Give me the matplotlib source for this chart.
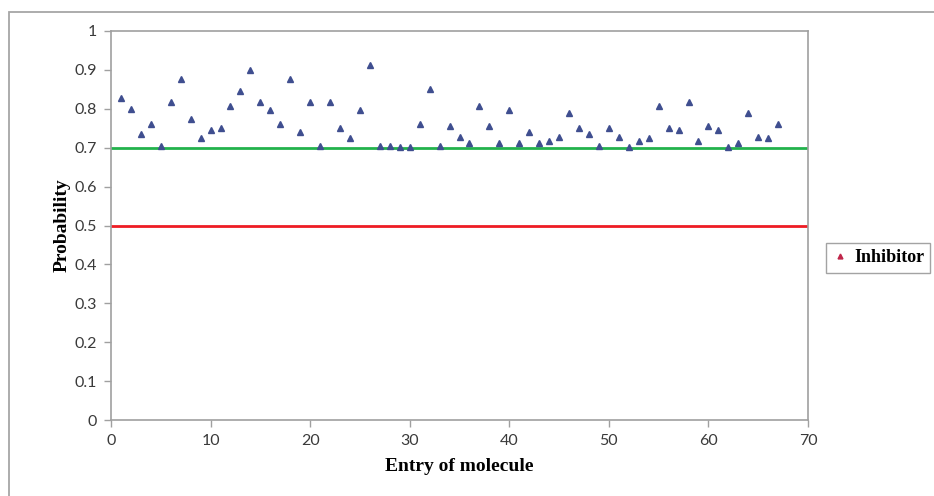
import matplotlib
matplotlib.use("Agg")
import matplotlib.pyplot as plt
from matplotlib.patches import Rectangle
from matplotlib.lines import Line2D

entries = list(range(1, 68))
probability = [
    0.828, 0.799, 0.735, 0.761, 0.705, 0.818, 0.877, 0.773, 0.724, 0.746,
    0.751, 0.806, 0.846, 0.900, 0.818, 0.796, 0.761, 0.877, 0.741, 0.818,
    0.705, 0.818, 0.751, 0.724, 0.796, 0.912, 0.705, 0.705, 0.702, 0.702,
    0.761, 0.852, 0.705, 0.756, 0.728, 0.712, 0.806, 0.756, 0.712, 0.796,
    0.712, 0.741, 0.712, 0.718, 0.728, 0.790, 0.751, 0.735, 0.705, 0.751,
    0.728, 0.702, 0.718, 0.724, 0.806, 0.751, 0.746, 0.818, 0.718, 0.756,
    0.746, 0.702, 0.712, 0.790, 0.728, 0.724, 0.761,
]
threshold_high = 0.7
threshold_low = 0.5
xticks = [0, 10, 20, 30, 40, 50, 60, 70]
yticks = [0, 0.1, 0.2, 0.3, 0.4, 0.5, 0.6, 0.7, 0.8, 0.9, 1]
ytick_labels = ["0", "0.1", "0.2", "0.3", "0.4", "0.5", "0.6", "0.7", "0.8", "0.9", "1"]

fig = plt.figure(figsize=(9.34, 4.96), dpi=100)
W, H = 934, 496

# outer chart border (top and left visible)
fig.patches.append(Rectangle((9 / W, -0.1), 1.2, (496 - 12) / H + 0.1,
                             transform=fig.transFigure, fill=False,
                             edgecolor="#a6a6a6", linewidth=1.3))

ax = fig.add_axes([111 / W, (496 - 420) / H, (808 - 111) / W, (420 - 31) / H])
ax.set_xlim(0, 70)
ax.set_ylim(0, 1)

ax.axhline(threshold_high, color="#22b24c", linewidth=2, zorder=2)
ax.axhline(threshold_low, color="#ee1c24", linewidth=2, zorder=2)
ax.plot(entries, probability, linestyle="none", marker="^", markersize=5,
        color="#3f4e8f", zorder=3)

for sp in ax.spines.values():
    sp.set_color("#a0a0a0")
    sp.set_linewidth(1.2)

ax.set_xticks(xticks)
ax.set_yticks(yticks)
ax.set_yticklabels(ytick_labels)
ax.tick_params(axis="both", direction="out", length=5, width=1, color="#a0a0a0",
               labelcolor="#3a3a3a", labelsize=11.5, pad=5)
for lab in ax.get_xticklabels() + ax.get_yticklabels():
    lab.set_family("Lato")

ax.set_xlabel("Entry of molecule", fontfamily="Liberation Serif",
              fontweight="bold", fontsize=14, labelpad=7)
ax.set_ylabel("Probability", fontfamily="Liberation Serif",
              fontweight="bold", fontsize=14, labelpad=3)

handle = Line2D([], [], linestyle="none", marker="^", markersize=3.5,
                color="#c0264a")
leg = fig.legend([handle], ["Inhibitor"], loc="center left",
                 bbox_to_anchor=(826 / W, (496 - 258) / H),
                 prop={"family": "Liberation Serif", "weight": "bold", "size": 13},
                 frameon=True, fancybox=False, handlelength=0.8,
                 handletextpad=0.4, borderpad=0.35, borderaxespad=0)
leg.get_frame().set_edgecolor("#8c8c8c")
leg.get_frame().set_linewidth(1.0)

fig.savefig("out.png", dpi=100)
